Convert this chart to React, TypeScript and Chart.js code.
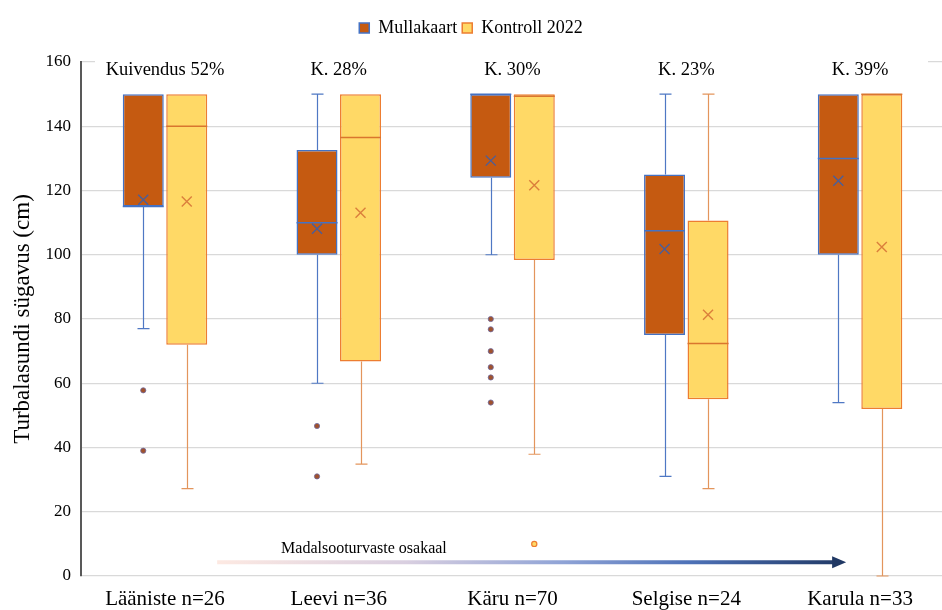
import React, { useEffect, useRef } from "react";
import { Chart, registerables } from "chart.js";

Chart.register(...registerables);

// ---------- data ----------
const categories = ["Lääniste n=26", "Leevi n=36", "Käru n=70", "Selgise n=24", "Karula n=33"];
const annotations = ["Kuivendus 52%", "K. 28%", "K. 30%", "K. 23%", "K. 39%"];
const seriesNames = ["Mullakaart", "Kontroll 2022"];

const mullMin = [77, 60, 100, 31, 54];
const mullQ1 = [115, 100, 124, 75, 100];
const mullMedian = [115, 110, 150, 107.5, 130];
const mullQ3 = [150, 132.6, 150, 125, 150];
const mullMax = [150, 150, 150, 150, 150];
const mullMean = [117.1, 108.1, 129.3, 101.8, 123];
const mullOutliers = [[57.8, 39], [46.7, 31], [80, 76.8, 70, 65, 61.8, 54], [], []];

const kontMin = [27.2, 34.8, 37.9, 27.2, 0];
const kontQ1 = [72, 66.8, 98.4, 55, 52];
const kontMedian = [140, 136.5, 149.3, 72.4, 150];
const kontQ3 = [150, 150, 150, 110.7, 150];
const kontMax = [150, 150, 150, 150, 150];
const kontMean = [116.6, 113.1, 121.6, 81.3, 102.4];
const kontOutliers = [[], [], [10], [], []];

const yTicksMin = 0;
const yTicksMax = 160;
const yTickStep = 20;
const arrowLabel = "Madalsooturvaste osakaal";
const yTitle = "Turbalasundi sügavus (cm)";

// ---------- styles ----------
const FONT = "'Liberation Serif', 'Times New Roman', serif";
const MULL_FILL = "#C55A11";
const MULL_LINE = "#4472C4";
const KONT_FILL = "#FFD966";
const KONT_LINE = "#ED7D31";

const stats = [
  { min: mullMin, q1: mullQ1, med: mullMedian, q3: mullQ3, max: mullMax, mean: mullMean, out: mullOutliers, line: MULL_LINE, fill: MULL_FILL, whisker: "#4F78C4", medLine: MULL_LINE, meanCol: "#4A5E9A" },
  { min: kontMin, q1: kontQ1, med: kontMedian, q3: kontQ3, max: kontMax, mean: kontMean, out: kontOutliers, line: KONT_LINE, fill: KONT_FILL, whisker: "#E3955C", medLine: "#D9762E", meanCol: "#DB7F3C" },
];

const boxPlugin = {
  id: "boxExtras",
  beforeLayout(chart: any) {
    const lg = chart.legend;
    if (lg && !lg.__patched) {
      const orig = lg.fit.bind(lg);
      lg.fit = () => {
        orig();
        lg.height += 15;
      };
      lg.__patched = true;
    }
  },
  afterLayout(chart: any) {
    const xs = chart.scales.x;
    xs._startValue = -0.4834;
    xs._valueRange = 4.955;
  },
  beforeDatasetsDraw(chart: any) {
    const { ctx, chartArea, scales } = chart;
    const y = scales.y;
    // top gridline hidden behind text boxes
    const pTop = y.getPixelForValue(yTicksMax);
    ctx.save();
    ctx.fillStyle = "#ffffff";
    ctx.fillRect(chartArea.left + 14, pTop - 2, chartArea.right - chartArea.left - 28, 4);
    // whiskers
    stats.forEach((s, d) => {
      const meta = chart.getDatasetMeta(d);
      meta.data.forEach((bar: any, i: number) => {
        const x = Math.round(bar.x) + 0.5;
        ctx.strokeStyle = s.whisker;
        ctx.lineWidth = 1.2;
        const cap = 6;
        const drawW = (from: number, to: number) => {
          if (Math.abs(from - to) < 0.01) return;
          const a = y.getPixelForValue(from);
          const b = y.getPixelForValue(to);
          ctx.beginPath();
          ctx.moveTo(x, a);
          ctx.lineTo(x, b);
          ctx.moveTo(x - cap, b);
          ctx.lineTo(x + cap, b);
          ctx.stroke();
        };
        drawW(s.q3[i], s.max[i]);
        drawW(s.q1[i], s.min[i]);
      });
    });
    ctx.restore();
  },
  afterDatasetsDraw(chart: any) {
    const { ctx, scales } = chart;
    const y = scales.y;
    ctx.save();
    stats.forEach((s, d) => {
      const meta = chart.getDatasetMeta(d);
      meta.data.forEach((bar: any, i: number) => {
        const x = bar.x;
        const w = bar.width;
        // median
        const pm = y.getPixelForValue(s.med[i]);
        ctx.strokeStyle = s.medLine;
        ctx.lineWidth = 1.5;
        ctx.beginPath();
        ctx.moveTo(x - w / 2, pm);
        ctx.lineTo(x + w / 2, pm);
        ctx.stroke();
        // mean X
        const py = y.getPixelForValue(s.mean[i]);
        const r = 5;
        ctx.strokeStyle = s.meanCol;
        ctx.lineWidth = 1.4;
        ctx.beginPath();
        ctx.moveTo(x - r, py - r);
        ctx.lineTo(x + r, py + r);
        ctx.moveTo(x + r, py - r);
        ctx.lineTo(x - r, py + r);
        ctx.stroke();
        // outliers
        s.out[i].forEach((v: number) => {
          const po = y.getPixelForValue(v);
          ctx.beginPath();
          ctx.arc(x, po, 2.6, 0, Math.PI * 2);
          ctx.fillStyle = d === 0 ? "#A0522D" : KONT_FILL;
          ctx.fill();
          ctx.lineWidth = d === 0 ? 0.8 : 1.2;
          ctx.strokeStyle = d === 0 ? "#6F6AA0" : KONT_LINE;
          ctx.stroke();
        });
      });
    });
    ctx.restore();
  },
  afterDraw(chart: any) {
    const { ctx, chartArea, scales } = chart;
    const x = scales.x;
    const y = scales.y;
    ctx.save();
    // annotations above each group
    ctx.fillStyle = "#000";
    ctx.font = `18.5px ${FONT}`;
    ctx.textAlign = "center";
    ctx.textBaseline = "middle";
    annotations.forEach((t, i) => {
      ctx.fillText(t, x.getPixelForValue(i), chartArea.top + 8);
    });
    // gradient arrow
    const ay = y.getPixelForValue(4.3);
    const x0 = x.getPixelForValue(0.3);
    const x1 = x.getPixelForValue(3.92);
    const g = ctx.createLinearGradient(x0, 0, x1, 0);
    g.addColorStop(0, "#FDE9E2");
    g.addColorStop(0.3, "#D9CFE0");
    g.addColorStop(0.55, "#8FA3D6");
    g.addColorStop(0.75, "#4E72B8");
    g.addColorStop(1, "#203864");
    ctx.strokeStyle = g;
    ctx.lineWidth = 4;
    ctx.beginPath();
    ctx.moveTo(x0, ay);
    ctx.lineTo(x1 - 12, ay);
    ctx.stroke();
    ctx.fillStyle = "#203864";
    ctx.beginPath();
    ctx.moveTo(x1 - 14, ay - 6);
    ctx.lineTo(x1, ay);
    ctx.lineTo(x1 - 14, ay + 6);
    ctx.closePath();
    ctx.fill();
    // arrow label
    ctx.fillStyle = "#000";
    ctx.font = `16px ${FONT}`;
    ctx.textAlign = "left";
    ctx.textBaseline = "middle";
    ctx.fillText(arrowLabel, x.getPixelForValue(0.668), y.getPixelForValue(8.4));
    ctx.restore();
  },
};

export default function App() {
  const ref = useRef<HTMLCanvasElement>(null);
  useEffect(() => {
    if (!ref.current) return;
    Chart.defaults.font.family = FONT;
    const chart = new Chart(ref.current, {
      type: "bar",
      data: {
        labels: categories,
        datasets: [
          {
            label: seriesNames[0],
            data: categories.map((_, i) => [mullQ1[i], mullQ3[i]]),
            backgroundColor: MULL_FILL,
            borderColor: MULL_LINE,
            borderWidth: 1.5,
            borderSkipped: false,
            categoryPercentage: 0.5007,
            barPercentage: 0.9425,
          },
          {
            label: seriesNames[1],
            data: categories.map((_, i) => [kontQ1[i], kontQ3[i]]),
            backgroundColor: KONT_FILL,
            borderColor: KONT_LINE,
            borderWidth: 1.5,
            borderSkipped: false,
            categoryPercentage: 0.5007,
            barPercentage: 0.9425,
          },
        ] as any,
      },
      options: {
        responsive: false,
        animation: false,
        layout: { padding: { top: 14, left: 0, right: 0, bottom: 0 } },
        plugins: {
          tooltip: { enabled: false },
          legend: {
            position: "top",
            align: "center",
            labels: {
              boxWidth: 10,
              boxHeight: 10,
              padding: 5,
              color: "#000",
              font: { size: 18, family: FONT },
              generateLabels: () =>
                seriesNames.map((n, i) => ({
                  text: n,
                  fillStyle: i === 0 ? MULL_FILL : KONT_FILL,
                  strokeStyle: i === 0 ? MULL_LINE : KONT_LINE,
                  lineWidth: 1.5,
                  hidden: false,
                  datasetIndex: i,
                })),
            },
          },
        },
        scales: {
          x: {
            grid: { display: false },
            border: { display: false },
            ticks: { color: "#000", font: { size: 21, family: FONT }, padding: 3, maxRotation: 0, autoSkip: false },
            afterFit: (s: any) => {
              s.height = 34;
            },
          },
          y: {
            min: yTicksMin,
            max: yTicksMax,
            ticks: { stepSize: yTickStep, color: "#000", font: { size: 17, family: FONT }, padding: 10 },
            grid: { color: "#D9D9D9", drawTicks: false, lineWidth: 1.3 },
            border: { display: true, color: "#595959", width: 2 },
            title: {
              display: true,
              text: yTitle,
              color: "#000",
              font: { size: 23, family: FONT },
              padding: { top: 9, bottom: 0 },
            },
            afterFit: (s: any) => {
              s.width = 81;
            },
          },
        },
      } as any,
      plugins: [boxPlugin],
    });
    return () => chart.destroy();
  }, []);
  return (
    <canvas
      ref={ref}
      width={942}
      height={610}
      style={{ position: "absolute", left: 0, top: 0, display: "block" }}
    />
  );
}
